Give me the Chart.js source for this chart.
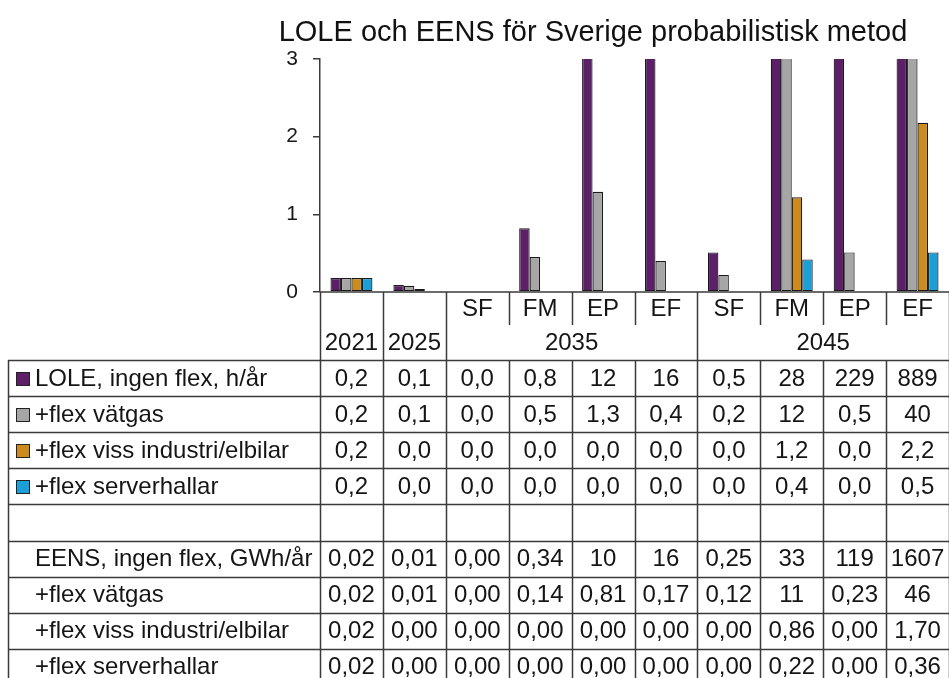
<!DOCTYPE html>
<html><head><meta charset="utf-8">
<script src="https://cdn.jsdelivr.net/npm/chart.js@4.4.1/dist/chart.umd.min.js"></script>
<style>html,body{margin:0;padding:0;background:#fff}canvas{display:block}</style>
</head><body>
<canvas id="c" width="949" height="678"></canvas>
<script>
// ---- data ----
const titleText = 'LOLE och EENS för Sverige probabilistisk metod';
const categories = ['2021','2025','2035 SF','2035 FM','2035 EP','2035 EF','2045 SF','2045 FM','2045 EP','2045 EF'];
const subLabels = ['','','SF','FM','EP','EF','SF','FM','EP','EF'];
const yearGroups = [['2021',0,0],['2025',1,1],['2035',2,5],['2045',6,9]];
const yTicks = [0,1,2,3];

const seriesNames = ['LOLE, ingen flex, h/år','+flex vätgas','+flex viss industri/elbilar','+flex serverhallar'];
const seriesColors = ['#5d2068','#a6a6a6','#cc8a1f','#1b9fd8'];
// bar heights (h/år); bars above 3 are cut at the axis top
const loleIngenFlex = [0.18, 0.09, 0, 0.82, 12, 16, 0.51, 28, 229, 889];
const loleVatgas    = [0.18, 0.08, 0, 0.45, 1.29, 0.40, 0.22, 12, 0.51, 40];
const loleIndustri  = [0.18, 0.04, 0, 0, 0, 0, 0, 1.22, 0, 2.18];
const loleServer    = [0.18, 0, 0, 0, 0, 0, 0, 0.42, 0, 0.51];

// table text
const tblLoleIngen    = ['0,2','0,1','0,0','0,8','12','16','0,5','28','229','889'];
const tblLoleVatgas   = ['0,2','0,1','0,0','0,5','1,3','0,4','0,2','12','0,5','40'];
const tblLoleIndustri = ['0,2','0,0','0,0','0,0','0,0','0,0','0,0','1,2','0,0','2,2'];
const tblLoleServer   = ['0,2','0,0','0,0','0,0','0,0','0,0','0,0','0,4','0,0','0,5'];
const eensRowNames = ['EENS, ingen flex, GWh/år','+flex vätgas','+flex viss industri/elbilar','+flex serverhallar'];
const tblEensIngen    = ['0,02','0,01','0,00','0,34','10','16','0,25','33','119','1607'];
const tblEensVatgas   = ['0,02','0,01','0,00','0,14','0,81','0,17','0,12','11','0,23','46'];
const tblEensIndustri = ['0,02','0,00','0,00','0,00','0,00','0,00','0,00','0,86','0,00','1,70'];
const tblEensServer   = ['0,02','0,00','0,00','0,00','0,00','0,00','0,00','0,22','0,00','0,36'];

const FONT = '"Liberation Sans", Arial, sans-serif';
const seriesData = [loleIngenFlex, loleVatgas, loleIndustri, loleServer];

const tableRows = [
  {label: seriesNames[0], color: seriesColors[0], vals: tblLoleIngen},
  {label: seriesNames[1], color: seriesColors[1], vals: tblLoleVatgas},
  {label: seriesNames[2], color: seriesColors[2], vals: tblLoleIndustri},
  {label: seriesNames[3], color: seriesColors[3], vals: tblLoleServer},
  {label: '', vals: null},
  {label: eensRowNames[0], vals: tblEensIngen},
  {label: eensRowNames[1], vals: tblEensVatgas},
  {label: eensRowNames[2], vals: tblEensIndustri},
  {label: eensRowNames[3], vals: tblEensServer}
];

const tablePlugin = {
  id: 'tablePlugin',
  afterDraw(chart) {
    const ctx = chart.ctx, xs = chart.scales.x, ys = chart.scales.y, ca = chart.chartArea;
    const n = categories.length;
    const colW = xs.getPixelForValue(1) - xs.getPixelForValue(0);
    const edge = i => xs.getPixelForValue(i) - colW / 2;
    const y0 = ys.getPixelForValue(0);
    const yMid = y0 + 33, yTop = y0 + 68;
    const rowH = 36.1, tableLeft = 8, bottom = chart.height + 20;
    const lineCol = '#3a3a3a', textCol = '#151515';

    ctx.save();
    // title
    ctx.fillStyle = '#111';
    ctx.font = '29px ' + FONT;
    ctx.textAlign = 'center';
    ctx.textBaseline = 'alphabetic';
    ctx.fillText(titleText, 593, 41);

    ctx.strokeStyle = lineCol;
    ctx.lineWidth = 1.5;
    const line = (x1, y1, x2, y2) => { ctx.beginPath(); ctx.moveTo(x1, y1); ctx.lineTo(x2, y2); ctx.stroke(); };
    // zero / category axis line
    line(ca.left, y0, ca.right + 2, y0);

    const boundaries = new Set([0]);
    yearGroups.forEach(g => { boundaries.add(g[1]); boundaries.add(g[2] + 1); });
    for (let i = 0; i <= n; i++) {
      const x = Math.round(edge(i)) + 0.5;
      if (boundaries.has(i)) line(x, y0, x, bottom);
      else { line(x, y0, x, yMid); line(x, yTop, x, bottom); }
    }
    // horizontal table lines
    for (let k = 0; k <= tableRows.length; k++) {
      const y = Math.round(yTop + k * rowH) + 0.5;
      line(tableLeft, y, ca.right + 2, y);
    }
    line(tableLeft + 0.5, yTop, tableLeft + 0.5, bottom);

    ctx.fillStyle = textCol;
    ctx.font = '24px ' + FONT;
    ctx.textBaseline = 'middle';
    ctx.textAlign = 'center';
    // sub labels
    subLabels.forEach((s, i) => { if (s) ctx.fillText(s, xs.getPixelForValue(i), (y0 + yMid) / 2 + 1); });
    // year labels
    yearGroups.forEach(g => ctx.fillText(g[0], (edge(g[1]) + edge(g[2] + 1)) / 2, (yMid + yTop) / 2 + 1));
    // rows
    tableRows.forEach((r, k) => {
      const cy = yTop + k * rowH + rowH / 2 + 1;
      if (r.color) {
        ctx.fillStyle = r.color;
        ctx.fillRect(16, Math.round(cy - 7), 14, 14);
        ctx.strokeStyle = '#222'; ctx.lineWidth = 1;
        ctx.strokeRect(16.5, Math.round(cy - 7) + 0.5, 13, 13);
      }
      ctx.fillStyle = textCol;
      ctx.textAlign = 'left';
      if (r.label) ctx.fillText(r.label, 35, cy);
      ctx.textAlign = 'center';
      if (r.vals) r.vals.forEach((v, i) => ctx.fillText(v, xs.getPixelForValue(i), cy));
    });
    ctx.restore();
  }
};

new Chart(document.getElementById('c'), {
  type: 'bar',
  data: {
    labels: categories,
    datasets: seriesNames.map((name, i) => ({
      label: name,
      data: seriesData[i],
      backgroundColor: seriesColors[i],
      borderColor: '#1a1a1a',
      borderWidth: 1.2,
      borderSkipped: false,
      categoryPercentage: 0.667,
      barPercentage: 1.0,
      clip: 0
    }))
  },
  options: {
    responsive: false,
    animation: false,
    layout: { padding: { top: 59, bottom: 386, left: 0, right: 0 } },
    plugins: { legend: { display: false }, title: { display: false }, tooltip: { enabled: false } },
    scales: {
      x: { display: false },
      y: {
        min: 0, max: 3,
        afterBuildTicks: s => { s.ticks = yTicks.map(v => ({ value: v })); },
        afterFit: s => { s.width = 320; },
        ticks: { padding: 15, color: '#151515', font: { family: FONT, size: 21 } },
        grid: { drawOnChartArea: false, drawTicks: true, tickLength: 7, color: '#3a3a3a', lineWidth: 1.5 },
        border: { display: true, color: '#3a3a3a', width: 1.5 }
      }
    }
  },
  plugins: [tablePlugin]
});
</script>
</body></html>
